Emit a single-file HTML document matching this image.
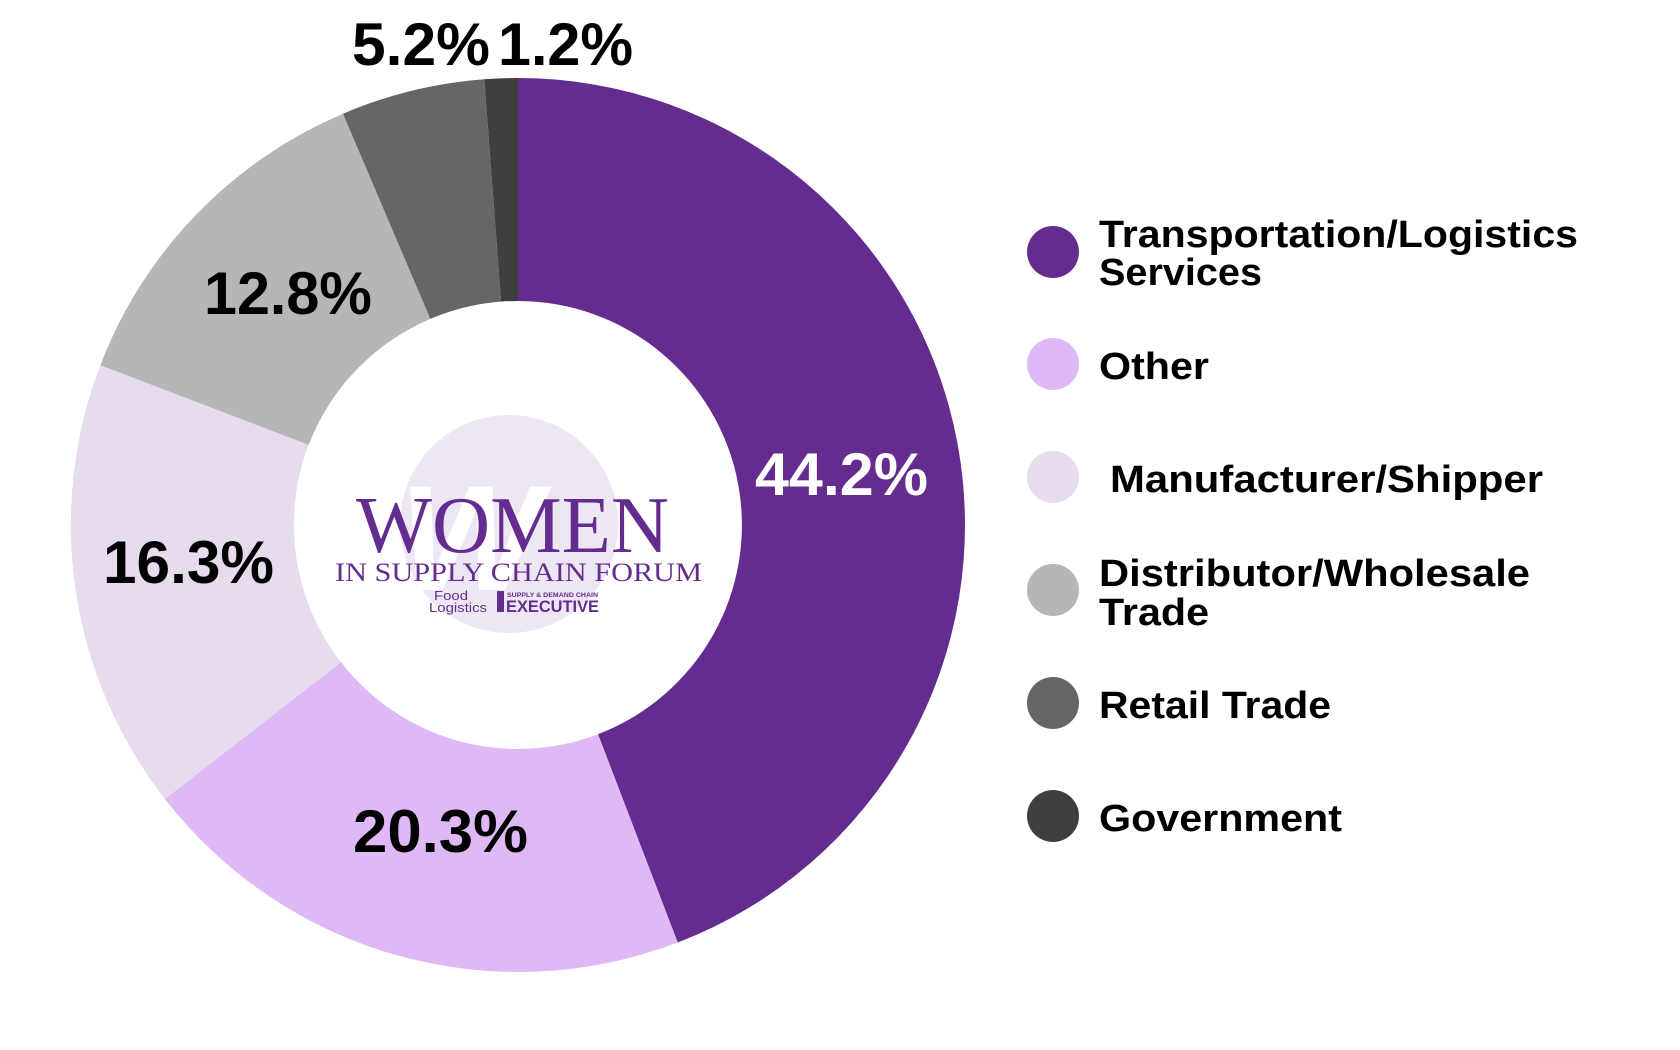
<!DOCTYPE html>
<html><head><meta charset="utf-8"><style>html,body{margin:0;padding:0;background:#fff;width:1680px;height:1050px;overflow:hidden}</style></head>
<body>
<svg width="1680" height="1050" viewBox="0 0 1680 1050" xmlns="http://www.w3.org/2000/svg">
<rect width="1680" height="1050" fill="#fff"/>
<g>
<path d="M518,78 A447,447 0 0 1 677.7,942.5 L598,734.2 A224,224 0 0 0 518,301 Z" fill="#652c8f"/>
<path d="M677.7,942.5 A447,447 0 0 1 164.8,798.9 L341,662.3 A224,224 0 0 0 598,734.2 Z" fill="#dfb9f6"/>
<path d="M164.8,798.9 A447,447 0 0 1 100.3,365.2 L308.7,444.9 A224,224 0 0 0 341,662.3 Z" fill="#e7dcee"/>
<path d="M100.3,365.2 A447,447 0 0 1 343,113.7 L430.3,318.9 A224,224 0 0 0 308.7,444.9 Z" fill="#b6b6b6"/>
<path d="M343,113.7 A447,447 0 0 1 484.3,79.3 L501.1,301.6 A224,224 0 0 0 430.3,318.9 Z" fill="#666666"/>
<path d="M484.3,79.3 A447,447 0 0 1 518,78 L518,301 A224,224 0 0 0 501.1,301.6 Z" fill="#3f3f3f"/>
</g>
<circle cx="509" cy="524" r="109" fill="#ede7f3"/>
<text x="470" y="590" font-family="Liberation Sans, sans-serif" font-size="150" font-weight="bold" font-style="italic" fill="#fff" text-anchor="middle">W</text>
<g font-family="Liberation Serif, serif" fill="#652c8f">
<text x="356" y="552" font-size="80" textLength="313" lengthAdjust="spacingAndGlyphs">WOMEN</text>
<text x="335" y="581" font-size="26" textLength="367" lengthAdjust="spacingAndGlyphs">IN SUPPLY CHAIN FORUM</text>
</g>
<g font-family="Liberation Sans, sans-serif" fill="#652c8f">
<text x="434" y="600" font-size="13" textLength="34" lengthAdjust="spacingAndGlyphs">Food</text>
<text x="429" y="612" font-size="13" textLength="58" lengthAdjust="spacingAndGlyphs">Logistics</text>
<rect x="497" y="591" width="7" height="21" fill="#652c8f"/>
<text x="507" y="597" font-size="6" font-weight="bold" textLength="91" lengthAdjust="spacingAndGlyphs">SUPPLY &amp; DEMAND CHAIN</text>
<text x="506" y="612" font-size="17" font-weight="bold" textLength="93" lengthAdjust="spacingAndGlyphs">EXECUTIVE</text>
</g>
<g font-family="Liberation Sans, sans-serif" font-weight="bold" font-size="60">
<text x="755" y="495" fill="#fff" textLength="173" lengthAdjust="spacingAndGlyphs">44.2%</text>
<text x="353" y="852" fill="#000" textLength="175" lengthAdjust="spacingAndGlyphs">20.3%</text>
<text x="103" y="583" fill="#000" textLength="171" lengthAdjust="spacingAndGlyphs">16.3%</text>
<text x="204" y="314" fill="#000" textLength="168" lengthAdjust="spacingAndGlyphs">12.8%</text>
<text x="352" y="65" fill="#000" textLength="138" lengthAdjust="spacingAndGlyphs">5.2%</text>
<text x="498" y="65" fill="#000" textLength="135" lengthAdjust="spacingAndGlyphs">1.2%</text>
</g>
<circle cx="1053" cy="252" r="26" fill="#652c8f"/>
<circle cx="1053" cy="364" r="26" fill="#dfb9f6"/>
<circle cx="1053" cy="477" r="26" fill="#e7dcee"/>
<circle cx="1053" cy="590" r="26" fill="#b6b6b6"/>
<circle cx="1053" cy="703" r="26" fill="#666666"/>
<circle cx="1053" cy="816" r="26" fill="#3f3f3f"/>
<g font-family="Liberation Sans, sans-serif" font-weight="bold" font-size="38" fill="#000">
<text x="1099" y="247" textLength="479" lengthAdjust="spacingAndGlyphs">Transportation/Logistics</text>
<text x="1099" y="285" textLength="163" lengthAdjust="spacingAndGlyphs">Services</text>
<text x="1099" y="379" textLength="110" lengthAdjust="spacingAndGlyphs">Other</text>
<text x="1110" y="492" textLength="433" lengthAdjust="spacingAndGlyphs">Manufacturer/Shipper</text>
<text x="1099" y="586" textLength="431" lengthAdjust="spacingAndGlyphs">Distributor/Wholesale</text>
<text x="1099" y="625" textLength="110" lengthAdjust="spacingAndGlyphs">Trade</text>
<text x="1099" y="718" textLength="232" lengthAdjust="spacingAndGlyphs">Retail Trade</text>
<text x="1099" y="831" textLength="243" lengthAdjust="spacingAndGlyphs">Government</text>
</g>
</svg>
</body></html>
